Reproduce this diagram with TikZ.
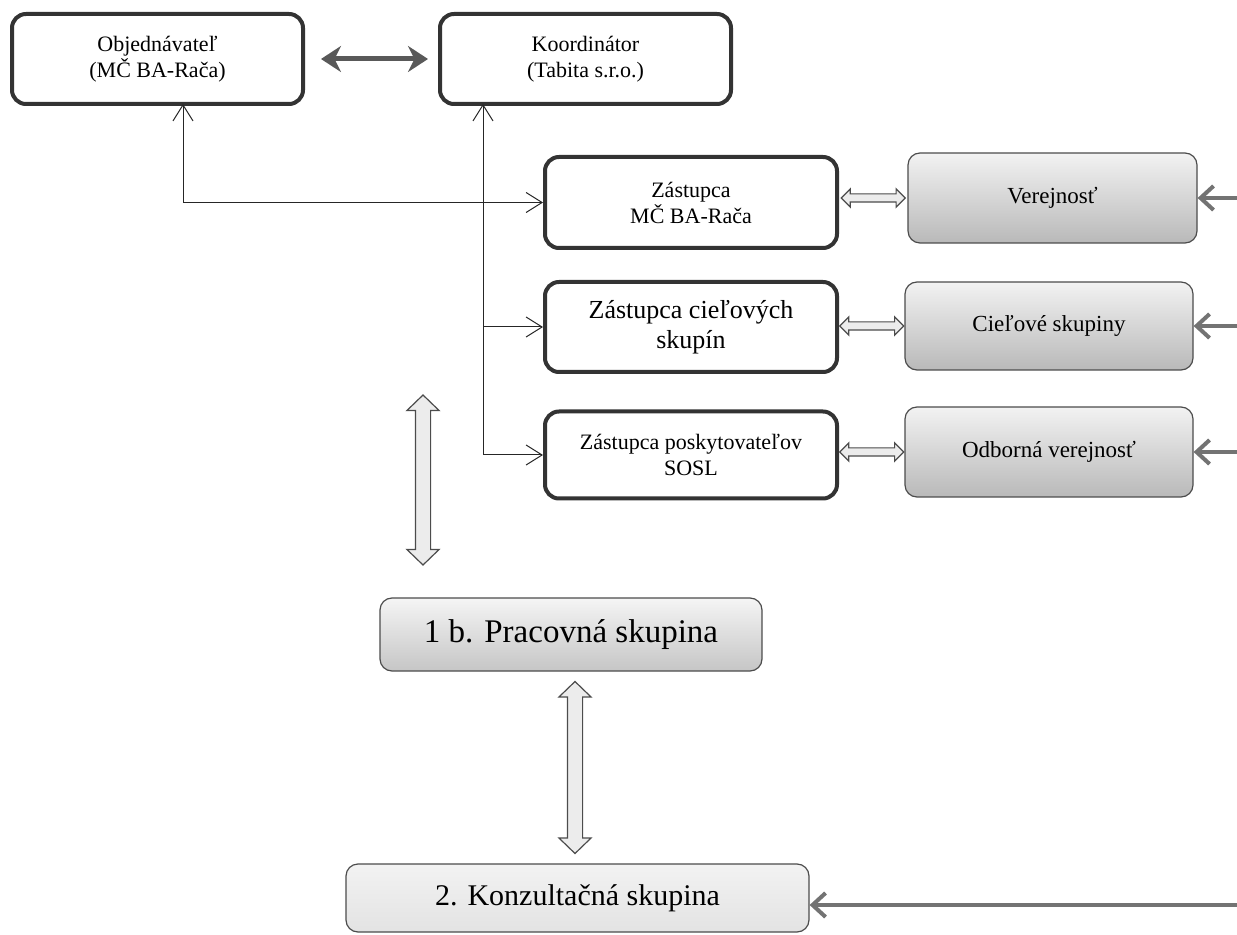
\documentclass[tikz,border=0pt]{standalone}
\usepackage{fontspec}
\setmainfont{Liberation Serif}
\usetikzlibrary{arrows.meta,positioning,shapes.arrows}

\begin{document}
\begin{tikzpicture}[x=0.5pt,y=-0.5pt,
    frame/.style={draw=black!80,line width=2pt,rounded corners=7pt,fill=white,align=center,inner sep=0pt},
    shadebox/.style={draw=black!70,line width=0.6pt,rounded corners=6pt,top color=gray!10,bottom color=gray!55,align=center,inner sep=0pt},
    conn/.style={line width=0.5pt,draw=black!85},
    hollow/.style={double arrow,draw=black!70,line width=0.6pt,fill=gray!15,inner xsep=0pt,inner ysep=1.75pt,
        minimum width=8pt,double arrow head extend=2.5pt,double arrow tip angle=90},
    bighollow/.style={double arrow,draw=black!70,line width=0.6pt,fill=gray!15,inner xsep=0pt,inner ysep=3.5pt,
        minimum width=15.5pt,double arrow head extend=4.25pt,double arrow tip angle=92},
    heavy/.style={draw=black!55,line width=2pt,-{Straight Barb[length=6.5pt,width=12pt]}}]
        \useasboundingbox (0,0) rectangle (1237,935);

        \node[frame,minimum width=145.5pt,minimum height=45pt,font=\fontsize{11}{13}\selectfont] (obj) at (157.5,59) {Objednávateľ\\(MČ BA-Rača)};
        \node[frame,minimum width=145.5pt,minimum height=45pt,font=\fontsize{11}{13}\selectfont] (koo) at (585.5,59) {Koordinátor\\(Tabita s.r.o.)};

        \node[frame,minimum width=146pt,minimum height=45.5pt,font=\fontsize{11}{13}\selectfont] (zmc) at (691,202.5) {Zástupca\\MČ BA-Rača};
        \node[frame,minimum width=146pt,minimum height=45pt,font=\fontsize{13}{15}\selectfont] (zcs) at (691,327) {Zástupca cieľových\\skupín};
        \node[frame,minimum width=146pt,minimum height=43.5pt,font=\fontsize{11}{13}\selectfont] (zps) at (691,455) {Zástupca poskytovateľov\\SOSL};

        \node[shadebox,minimum width=144.5pt,minimum height=45pt,font=\fontsize{11.5}{13}\selectfont] (ver) at (1052.5,198) {Verejnosť};
        \node[shadebox,minimum width=144pt,minimum height=44pt,font=\fontsize{11.5}{13}\selectfont] (cie) at (1049,326) {Cieľové skupiny};
        \node[shadebox,minimum width=144pt,minimum height=45pt,font=\fontsize{11.5}{13}\selectfont] (odb) at (1049,452) {Odborná verejnosť};

        \node[shadebox,top color=gray!8,bottom color=gray!45,minimum width=191pt,minimum height=36.5pt,font=\fontsize{16.5}{18}\selectfont] (pb) at (571,634.5) {1 b. Pracovná skupina};
        \node[shadebox,top color=gray!10,bottom color=gray!22,minimum width=231.5pt,minimum height=34pt,font=\fontsize{15}{17}\selectfont] (kons) at (577.5,898) {2. Konzultačná skupina};

        \node[bighollow,rotate=90,minimum height=85pt] (la) at (423,480) {};

        \coordinate (ol) at (183,104);
        \coordinate (kl) at (483,104);
        \coordinate (re) at (1237,0);

        \draw[draw=black!65,line width=2.5pt,{Stealth[length=10pt,width=13pt]}-{Stealth[length=10pt,width=13pt]},shorten <=8pt,shorten >=5pt] (obj.east) -- (koo.west);

        \draw[conn,{Straight Barb[length=8pt,width=10pt]}-{Straight Barb[length=8pt,width=10pt]}] (ol) |- (zmc.west);
        \draw[conn,{Straight Barb[length=8pt,width=10pt]}-{Straight Barb[length=8pt,width=10pt]}] (kl) |- (zps.west);
        \draw[conn,-{Straight Barb[length=8pt,width=10pt]}] (kl |- zcs.west) -- (zcs.west);

        \path (zmc.east |- ver.west) -- (ver.west) node[midway,sloped,hollow,minimum height=32pt] {};
        \path (zcs.east |- cie.west) -- (cie.west) node[midway,sloped,hollow,minimum height=32pt] {};
        \path (zps.east |- odb.west) -- (odb.west) node[midway,sloped,hollow,minimum height=32pt] {};

        \path ([xshift=2pt]pb.south) -- ([xshift=2pt]pb.south |- kons.north) node[midway,sloped,bighollow,minimum height=86pt] {};

        \draw[heavy] (ver.east -| re) -- (ver.east);
        \draw[heavy] (cie.east -| re) -- (cie.east);
        \draw[heavy] (odb.east -| re) -- (odb.east);
        \draw[heavy] ([yshift=-3.5pt]kons.east -| re) -- ([yshift=-3.5pt]kons.east);
\end{tikzpicture}
\end{document}
